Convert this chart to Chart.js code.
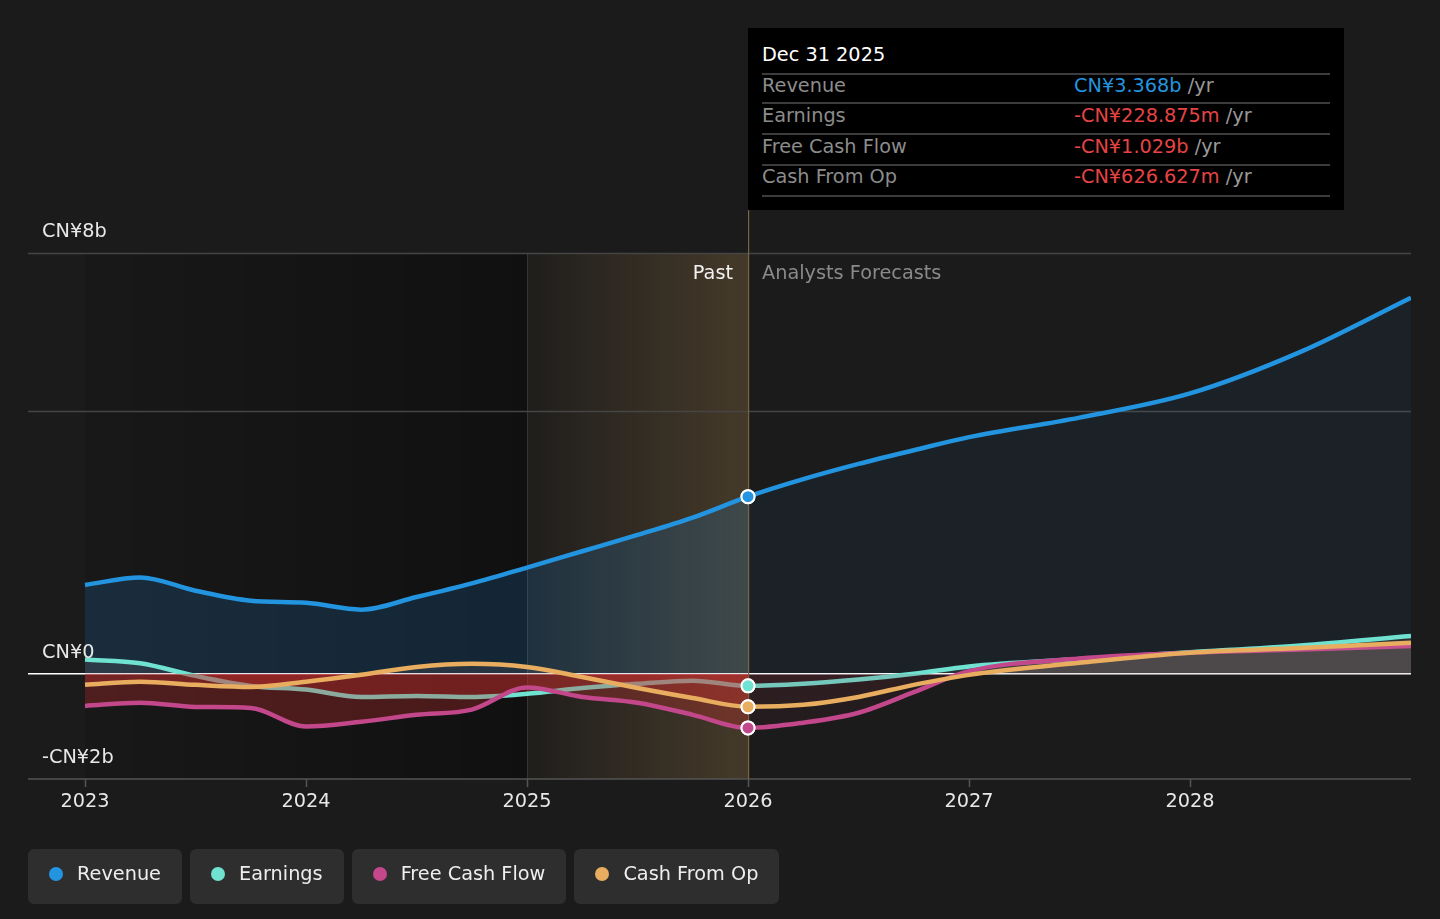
<!DOCTYPE html>
<html>
<head>
<meta charset="utf-8">
<script src="https://cdn.jsdelivr.net/npm/chart.js@4.4.1/dist/chart.umd.min.js"></script>
<style>
html, body { margin: 0; padding: 0; background: #1b1b1b; width: 1440px; height: 919px; overflow: hidden; font-family: "DejaVu Sans", sans-serif; }
#wrap { position: absolute; left: 0; top: 0; width: 1440px; height: 919px; }
#tip { position: absolute; left: 748px; top: 28px; width: 596px; height: 182px; background: #000; font-size: 19.3px; }
#tip .title { position: absolute; left: 14px; top: 15px; color: #fff; }
#tip .sep { position: absolute; left: 14px; width: 568px; height: 0; border-top: 2px solid #3c3c3c; }
#tip .lab { position: absolute; left: 14px; color: #8c8c8c; }
#tip .val { position: absolute; left: 326px; color: #999; white-space: pre; }
#legend { position: absolute; left: 28px; top: 849px; display: flex; gap: 8px; }
.item { box-sizing: border-box; height: 55px; border-radius: 6px; background: #2e2e2e; display: flex; align-items: center; padding: 0 21px 6px 21px; font-size: 19.3px; color: #eee; }
.dot { width: 14px; height: 14px; border-radius: 50%; margin-right: 14px; }
</style>
</head>
<body>
<div id="wrap"><canvas id="chart"></canvas></div>
<div id="tip"></div>
<div id="legend"></div>
<script>
// values in CN¥ billions
const years = [2023, 2023.25, 2023.5, 2023.75, 2024, 2024.25, 2024.5, 2024.75, 2025, 2025.25, 2025.5, 2025.75,
  2026, 2026.25, 2026.5, 2026.75, 2027, 2027.5, 2028, 2028.5, 2029];
const revenue = [1.69, 1.83, 1.58, 1.39, 1.35, 1.22, 1.46, 1.72, 2.02, 2.33, 2.64, 2.97,
  3.368, 3.70, 3.99, 4.25, 4.50, 4.87, 5.33, 6.12, 7.15];
const earnings = [0.27, 0.20, -0.04, -0.23, -0.30, -0.44, -0.42, -0.44, -0.38, -0.27, -0.19, -0.13,
  -0.228875, -0.19, -0.11, 0.0, 0.14, 0.28, 0.41, 0.54, 0.72];
const freeCashFlow = [-0.61, -0.55, -0.63, -0.65, -1.00, -0.91, -0.78, -0.68, -0.26, -0.44, -0.55, -0.78,
  -1.029, -0.93, -0.74, -0.35, 0.05, 0.29, 0.40, 0.46, 0.53];
const cashFromOp = [-0.21, -0.15, -0.21, -0.25, -0.15, -0.02, 0.13, 0.19, 0.13, -0.06, -0.27, -0.46,
  -0.626627, -0.59, -0.44, -0.21, -0.02, 0.21, 0.40, 0.49, 0.59];

const seriesNames = ['Revenue', 'Earnings', 'Free Cash Flow', 'Cash From Op'];
const seriesColors = ['#2394df', '#6fe2d1', '#c2478b', '#e8ad5f'];
const xTicks = [2023, 2024, 2025, 2026, 2027, 2028];
const yTicks = [8, 0, -2];
const yTickLabels = ['CN¥8b', 'CN¥0', '-CN¥2b'];
const gridLines = [8, 5];
const pastStart = 2025;
const nowYear = 2026;
const tipTitle = 'Dec 31 2025';

function pts(vals) { return years.map((yr, i) => ({ x: yr, y: vals[i] })); }

function splitGrad(chart, before, after) {
  const a = chart.chartArea;
  const p = (chart.scales.x.getPixelForValue(nowYear) - a.left) / (a.right - a.left);
  const g = chart.ctx.createLinearGradient(a.left, 0, a.right, 0);
  g.addColorStop(0, before); g.addColorStop(p, before);
  g.addColorStop(p, after); g.addColorStop(1, after);
  return g;
}

function revFill(c) {
  if (!c.chart.chartArea) return 'rgba(33,150,243,0.1)';
  return splitGrad(c.chart, 'rgba(33,150,243,0.16)', 'rgba(33,150,243,0.06)');
}

function lowFill(c) {
  const above = 'rgba(215,175,170,0.1)';
  if (!c.chart.chartArea) return { target: 'origin', above: above, below: 'rgba(200,45,45,0.2)' };
  return { target: 'origin', above: above, below: splitGrad(c.chart, 'rgba(205,45,45,0.3)', 'rgba(150,50,70,0.08)') };
}

function mkSet(i, vals, fill, bg, order) {
  return {
    label: seriesNames[i], data: pts(vals), order: order,
    borderColor: seriesColors[i], backgroundColor: bg, fill: fill,
    borderWidth: 4.5, cubicInterpolationMode: 'monotone',
    pointRadius: c => (c.raw && c.raw.x === nowYear ? 6.5 : 0),
    pointBackgroundColor: seriesColors[i], pointBorderColor: '#fff', pointBorderWidth: 2
  };
}

const backdrop = {
  id: 'backdrop',
  beforeDatasetsDraw(chart) {
    const { ctx, chartArea: a, scales: { x, y } } = chart;
    const x0 = x.getPixelForValue(years[0]), xp = x.getPixelForValue(pastStart), xn = x.getPixelForValue(nowYear);
    ctx.save();
    let g = ctx.createLinearGradient(x0, 0, xp, 0);
    g.addColorStop(0, 'rgba(0,0,0,0.08)'); g.addColorStop(1, 'rgba(0,0,0,0.38)');
    ctx.fillStyle = g; ctx.fillRect(x0, a.top, xp - x0, a.bottom - a.top);
    g = ctx.createLinearGradient(xp, 0, xn, 0);
    g.addColorStop(0, 'rgba(180,140,80,0.03)'); g.addColorStop(1, 'rgba(180,140,80,0.28)');
    ctx.fillStyle = g; ctx.fillRect(xp, a.top, xn - xp, a.bottom - a.top);
    ctx.fillStyle = 'rgba(255,255,255,0.1)'; ctx.fillRect(xp, a.top, 1, a.bottom - a.top);
    ctx.lineWidth = 1.5;
    ctx.strokeStyle = '#454545';
    gridLines.forEach(v => {
      const py = Math.round(y.getPixelForValue(v)) + 0.5;
      ctx.beginPath(); ctx.moveTo(a.left, py); ctx.lineTo(a.right, py); ctx.stroke();
    });
    ctx.strokeStyle = '#555';
    ctx.beginPath(); ctx.moveTo(a.left, a.bottom); ctx.lineTo(a.right, a.bottom); ctx.stroke();
    xTicks.forEach(v => {
      const px = Math.round(x.getPixelForValue(v)) + 0.5;
      ctx.beginPath(); ctx.moveTo(px, a.bottom); ctx.lineTo(px, a.bottom + 8); ctx.stroke();
    });
    ctx.strokeStyle = '#ffffff'; ctx.lineWidth = 1.6;
    const zy = y.getPixelForValue(0);
    ctx.beginPath(); ctx.moveTo(a.left, zy); ctx.lineTo(a.right, zy); ctx.stroke();
    ctx.fillStyle = '#7a6440'; ctx.fillRect(Math.round(xn), 210, 1.2, a.bottom - 210);
    ctx.restore();
  },
  afterDatasetsDraw(chart) {
    const { ctx, chartArea: a, scales: { x, y } } = chart;
    ctx.save();
    // markers on top of everything
    const idx = years.indexOf(nowYear);
    chart.data.datasets.forEach((d, i) => {
      const el = chart.getDatasetMeta(i).data[idx];
      if (el) el.draw(ctx, a);
    });
    ctx.font = '19.3px "DejaVu Sans"';
    ctx.textBaseline = 'middle';
    ctx.fillStyle = '#e8e8e8';
    ctx.textAlign = 'left';
    yTicks.forEach((v, i) => ctx.fillText(yTickLabels[i], 42, y.getPixelForValue(v) - 21));
    ctx.textAlign = 'center';
    xTicks.forEach(v => ctx.fillText(String(v), x.getPixelForValue(v), a.bottom + 23));
    const xn = x.getPixelForValue(nowYear);
    ctx.textAlign = 'right'; ctx.fillStyle = '#f2f2f2';
    ctx.fillText('Past', xn - 15, a.top + 21);
    ctx.textAlign = 'left'; ctx.fillStyle = '#8a8a8a';
    ctx.fillText('Analysts Forecasts', xn + 14, a.top + 21);
    ctx.restore();
  }
};

new Chart(document.getElementById('chart'), {
  type: 'line',
  data: {
    datasets: [
      mkSet(0, revenue, 'origin', revFill, 4),
      mkSet(1, earnings, lowFill, 'rgba(0,0,0,0)', 3),
      mkSet(2, freeCashFlow, lowFill, 'rgba(0,0,0,0)', 2),
      mkSet(3, cashFromOp, lowFill, 'rgba(0,0,0,0)', 1)
    ]
  },
  options: {
    responsive: true,
    maintainAspectRatio: false,
    animation: false,
    events: [],
    layout: { padding: { left: 28, right: 29, top: 253, bottom: 140 } },
    scales: {
      x: { type: 'linear', display: false, min: 2023 - 57 / 221, max: 2029 },
      y: { type: 'linear', display: false, min: -2, max: 8 }
    },
    plugins: { legend: { display: false }, tooltip: { enabled: false } }
  },
  plugins: [backdrop]
});

// tooltip box
function fmt(v) {
  const s = v < 0 ? '-' : '';
  const a = Math.abs(v);
  return a >= 1 ? s + 'CN¥' + a.toFixed(3) + 'b' : s + 'CN¥' + (a * 1000).toFixed(3) + 'm';
}
const tip = document.getElementById('tip');
const idxNow = years.indexOf(nowYear);
const tipVals = [revenue, earnings, freeCashFlow, cashFromOp].map(s => s[idxNow]);
let html = '<div class="title">' + tipTitle + '</div>';
[45, 74, 105, 136, 167].forEach(t => { html += '<div class="sep" style="top:' + t + 'px"></div>'; });
const rowTops = [46, 76, 107, 137];
tipVals.forEach((v, i) => {
  const col = v < 0 ? '#e64444' : seriesColors[0];
  html += '<div class="lab" style="top:' + rowTops[i] + 'px">' + seriesNames[i] + '</div>';
  html += '<div class="val" style="top:' + rowTops[i] + 'px"><span style="color:' + col + '">' + fmt(v) + '</span> /yr</div>';
});
tip.innerHTML = html;

// legend
const legend = document.getElementById('legend');
seriesNames.forEach((n, i) => {
  const it = document.createElement('div');
  it.className = 'item';
  it.innerHTML = '<span class="dot" style="background:' + seriesColors[i] + '"></span>' + n;
  legend.appendChild(it);
});
</script>
</body>
</html>
